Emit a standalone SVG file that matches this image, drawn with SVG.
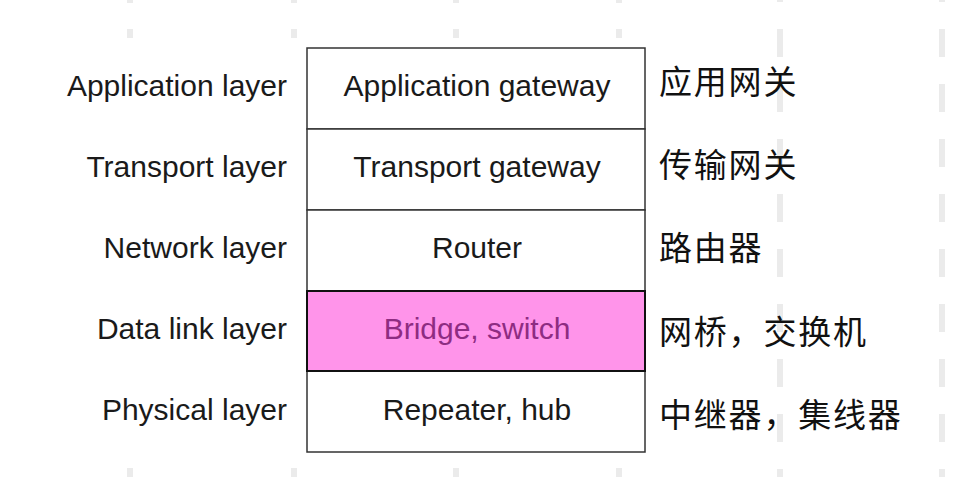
<svg xmlns="http://www.w3.org/2000/svg" width="977" height="477" viewBox="0 0 977 477">
<style>
.bg{fill:#ffffff}
.dash{stroke:#ebebeb;stroke-width:6;fill:none}
.box{fill:#ffffff;stroke:#333333;stroke-width:1.5}
.hl{fill:#ff94ea;stroke:#111111;stroke-width:2}
.en{font-family:"Liberation Sans",Arial,Helvetica,sans-serif;font-size:30px;fill:#1a1a1a}
.mid{text-anchor:middle}
.lbl{text-anchor:end}
.pk{fill:#8e2c82}
.zh{font-family:"Noto Sans CJK SC","Noto Sans",sans-serif;font-size:33px;fill:#111111;letter-spacing:1.8px}
</style>
<rect class="bg" x="0" y="0" width="977" height="477"/>
<g id="background-marks">
<line class="dash" x1="780" y1="-26" x2="780" y2="477" stroke-dasharray="28 27"/>
<line class="dash" x1="942" y1="-26" x2="942" y2="477" stroke-dasharray="28 27"/>
<path class="dash" d="M130 0V3M130 29V38M130 468V477M294 0V3M294 29V38M294 468V477M456 0V3M456 29V38M456 468V477M619 0V3M619 29V38M619 468V477"/>
</g>
<g id="layer-labels">
<text class="en lbl" x="287" y="96">Application layer</text>
<text class="en lbl" x="287" y="177">Transport layer</text>
<text class="en lbl" x="287" y="258">Network layer</text>
<text class="en lbl" x="287" y="339">Data link layer</text>
<text class="en lbl" x="287" y="420">Physical layer</text>
</g>
<g id="application-gateway">
<rect class="box" x="307" y="48" width="338" height="81"/>
<text class="en mid" x="477" y="96">Application gateway</text>
</g>
<g id="transport-gateway">
<rect class="box" x="307" y="129" width="338" height="81"/>
<text class="en mid" x="477" y="177">Transport gateway</text>
</g>
<g id="router">
<rect class="box" x="307" y="210" width="338" height="81"/>
<text class="en mid" x="477" y="258">Router</text>
</g>
<g id="repeater-hub">
<rect class="box" x="307" y="371" width="338" height="81"/>
<text class="en mid" x="477" y="420">Repeater, hub</text>
</g>
<g id="bridge-switch">
<rect class="hl" x="307" y="291" width="338" height="80"/>
<text class="en mid pk" x="477" y="339">Bridge, switch</text>
</g>
<g id="chinese-labels">
<text class="zh" x="659" y="94">应用网关</text>
<text class="zh" x="659" y="177">传输网关</text>
<text class="zh" x="659" y="260">路由器</text>
<text class="zh" x="659" y="344">网桥，交换机</text>
<text class="zh" x="659" y="427">中继器，集线器</text>
</g>
<g id="connectors"></g>
</svg>
